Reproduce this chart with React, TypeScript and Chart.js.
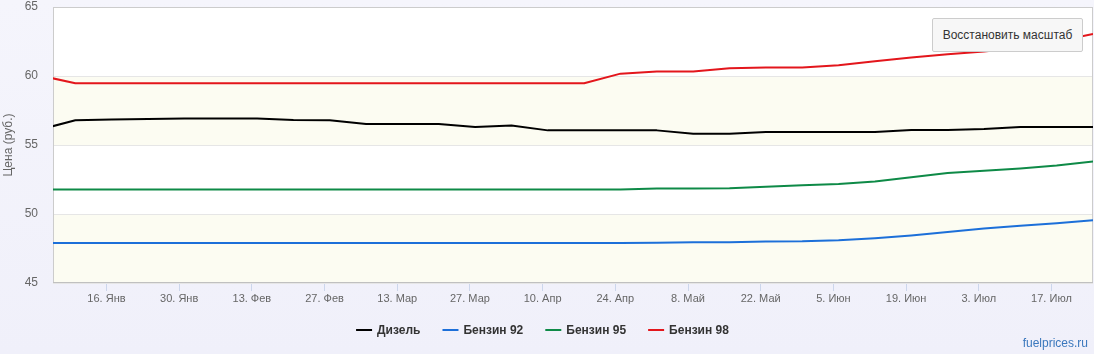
import React, { useEffect, useRef } from "react";
import { Chart, registerables } from "chart.js";

Chart.register(...registerables);

// Day of year for each weekly observation (Jan 3 ... Jul 25)
const dayNumbers = [3, 10, 17, 24, 31, 38, 45, 52, 59, 66, 73, 80, 87, 94, 101, 108, 115, 122, 129, 136, 143, 150, 157, 164, 171, 178, 185, 192, 199, 206];

const dieselPrices = [56.10, 56.79, 56.84, 56.88, 56.92, 56.92, 56.92, 56.82, 56.79, 56.53, 56.53, 56.53, 56.31, 56.41, 56.06, 56.06, 56.06, 56.06, 55.82, 55.82, 55.94, 55.94, 55.94, 55.94, 56.09, 56.09, 56.16, 56.31, 56.31, 56.31];
const ai92Prices = [47.90, 47.90, 47.90, 47.90, 47.90, 47.90, 47.90, 47.90, 47.90, 47.90, 47.90, 47.90, 47.90, 47.90, 47.90, 47.90, 47.90, 47.92, 47.95, 47.96, 48.00, 48.02, 48.10, 48.25, 48.45, 48.70, 48.95, 49.15, 49.33, 49.55];
const ai95Prices = [51.77, 51.77, 51.77, 51.77, 51.77, 51.77, 51.77, 51.77, 51.77, 51.77, 51.77, 51.77, 51.77, 51.77, 51.77, 51.77, 51.77, 51.84, 51.85, 51.87, 51.97, 52.09, 52.18, 52.35, 52.66, 52.97, 53.13, 53.30, 53.52, 53.80];
const ai98Prices = [60.05, 59.47, 59.47, 59.47, 59.47, 59.47, 59.47, 59.47, 59.47, 59.47, 59.47, 59.47, 59.47, 59.47, 59.47, 59.47, 60.17, 60.32, 60.32, 60.56, 60.61, 60.61, 60.78, 61.07, 61.34, 61.58, 61.78, 62.05, 62.50, 63.05];

const seriesNames = ["Дизель", "Бензин 92", "Бензин 95", "Бензин 98"];
const seriesColors = ["#000000", "#1c6fd9", "#0e8a47", "#e3161c"];

const tickDays = [16, 30, 44, 58, 72, 86, 100, 114, 128, 142, 156, 170, 184, 198];
const tickLabels = ["16. Янв", "30. Янв", "13. Фев", "27. Фев", "13. Мар", "27. Мар", "10. Апр", "24. Апр", "8. Май", "22. Май", "5. Июн", "19. Июн", "3. Июл", "17. Июл"];

const xMin = 5.7;
const xMax = 206;
const yMin = 45;
const yMax = 65;
const yStep = 5;
const plotBands = [[45, 50], [55, 60]];

const yTitle = "Цена (руб.)";
const resetLabel = "Восстановить масштаб";
const creditText = "fuelprices.ru";

const FONT = "'Liberation Sans', Arial, sans-serif";

const decorPlugin = {
  id: "decor",
  beforeDraw(chart: any) {
    const { ctx, chartArea, scales } = chart;
    const { left, top, right, bottom } = chartArea;
    ctx.save();
    ctx.fillStyle = "#ffffff";
    ctx.fillRect(left, top, right - left, bottom - top);
    ctx.fillStyle = "#fcfcf2";
    for (const [lo, hi] of plotBands) {
      const y1 = scales.y.getPixelForValue(hi);
      const y2 = scales.y.getPixelForValue(lo);
      ctx.fillRect(left, y1, right - left, y2 - y1);
    }
    ctx.restore();
  },
  beforeDatasetsDraw(chart: any) {
    const { ctx, chartArea } = chart;
    const { left, top, right, bottom } = chartArea;
    ctx.save();
    ctx.strokeStyle = "#cccccc";
    ctx.lineWidth = 1;
    ctx.strokeRect(Math.round(left) + 0.5, Math.round(top) + 0.5, Math.round(right - left) - 1, Math.round(bottom - top) - 1);
    ctx.strokeStyle = "#c0c0c0";
    ctx.beginPath();
    ctx.moveTo(left, Math.round(bottom) - 0.5);
    ctx.lineTo(right, Math.round(bottom) - 0.5);
    ctx.stroke();
    ctx.restore();
  },
  afterDraw(chart: any) {
    const { ctx, chartArea } = chart;
    const { top, bottom } = chartArea;
    ctx.save();
    ctx.translate(9, (top + bottom) / 2);
    ctx.rotate(-Math.PI / 2);
    ctx.font = `12px ${FONT}`;
    ctx.fillStyle = "#666666";
    ctx.textAlign = "center";
    ctx.textBaseline = "middle";
    ctx.fillText(yTitle, 0, 0);
    ctx.restore();

    ctx.save();
    ctx.font = `bold 12px ${FONT}`;
    const markerW = 16;
    const markerGap = 5;
    const itemGap = 22;
    const widths = seriesNames.map((n) => ctx.measureText(n).width);
    const total = widths.reduce((a, w) => a + markerW + markerGap + w, 0) + itemGap * (seriesNames.length - 1);
    let x = 542.5 - total / 2;
    const ly = 330;
    ctx.textBaseline = "middle";
    ctx.textAlign = "left";
    seriesNames.forEach((name, i) => {
      ctx.strokeStyle = seriesColors[i];
      ctx.lineWidth = 2;
      ctx.beginPath();
      ctx.moveTo(x, ly);
      ctx.lineTo(x + markerW, ly);
      ctx.stroke();
      ctx.fillStyle = "#333333";
      ctx.fillText(name, x + markerW + markerGap, ly + 0.5);
      x += markerW + markerGap + widths[i] + itemGap;
    });
    ctx.restore();
  },
};

export default function App() {
  const canvasRef = useRef<HTMLCanvasElement | null>(null);

  useEffect(() => {
    const canvas = canvasRef.current;
    if (!canvas) return;
    const seriesValues = [dieselPrices, ai92Prices, ai95Prices, ai98Prices];
    const chart = new Chart(canvas, {
      type: "line",
      data: {
        datasets: seriesValues.map((vals, i) => ({
          label: seriesNames[i],
          data: dayNumbers.map((d, k) => ({ x: d, y: vals[k] })),
          borderColor: seriesColors[i],
          backgroundColor: seriesColors[i],
          borderWidth: 2,
          pointRadius: 0,
          pointHoverRadius: 0,
          tension: 0,
          borderJoinStyle: "round" as const,
          fill: false,
        })),
      },
      options: {
        animation: false,
        responsive: false,
        devicePixelRatio: 1,
        events: [],
        layout: { padding: { top: 7, right: 1, bottom: 0, left: 0 } },
        plugins: {
          legend: { display: false },
          tooltip: { enabled: false },
          title: { display: false },
        },
        scales: {
          x: {
            type: "linear",
            min: xMin,
            max: xMax,
            afterBuildTicks: (scale: any) => {
              scale.ticks = tickDays.map((v) => ({ value: v }));
            },
            afterFit: (scale: any) => {
              scale.height = 71;
              scale.paddingLeft = 0;
              scale.paddingRight = 0;
              scale.paddingTop = 0;
              scale.paddingBottom = 0;
            },
            grid: {
              display: true,
              drawOnChartArea: false,
              drawTicks: true,
              tickLength: 8,
              color: "#ccd6eb",
            },
            border: { display: false },
            ticks: {
              autoSkip: false,
              maxRotation: 0,
              minRotation: 0,
              padding: 1,
              color: "#666666",
              font: { family: FONT, size: 11 },
              callback: (value: any) => {
                const i = tickDays.indexOf(Number(value));
                return i >= 0 ? tickLabels[i] : "";
              },
            },
          },
          y: {
            type: "linear",
            min: yMin,
            max: yMax,
            afterFit: (scale: any) => {
              scale.width = 53;
              scale.paddingTop = 0;
              scale.paddingBottom = 0;
              scale.paddingLeft = 0;
              scale.paddingRight = 0;
            },
            grid: {
              color: "#e6e6e6",
              drawTicks: false,
              lineWidth: 1,
            },
            border: { display: false },
            ticks: {
              stepSize: yStep,
              padding: 15,
              color: "#666666",
              font: { family: FONT, size: 12, lineHeight: 1 },
            },
          },
        },
      },
      plugins: [decorPlugin],
    });
    return () => chart.destroy();
  }, []);

  return (
    <div
      style={{
        position: "fixed",
        left: 0,
        top: 0,
        width: 1094,
        height: 354,
        background: "linear-gradient(180deg, #f5f5fc 0%, #f0f0fa 100%)",
        overflow: "hidden",
      }}
    >
      <canvas ref={canvasRef} width={1094} height={354} style={{ position: "absolute", left: 0, top: 0, width: 1094, height: 354 }} />
      <div
        style={{
          position: "absolute",
          left: 932,
          top: 18,
          width: 151,
          height: 34,
          boxSizing: "border-box",
          border: "1px solid #cccccc",
          borderRadius: 2,
          background: "#f7f7f7",
          color: "#333333",
          fontFamily: FONT,
          fontSize: 12,
          display: "flex",
          alignItems: "center",
          justifyContent: "center",
          whiteSpace: "nowrap",
        }}
      >
        {resetLabel}
      </div>
      <div
        style={{
          position: "absolute",
          right: 6,
          top: 335,
          color: "#3b78bd",
          fontFamily: FONT,
          fontSize: 12,
          lineHeight: "16px",
          whiteSpace: "nowrap",
        }}
      >
        {creditText}
      </div>
    </div>
  );
}
